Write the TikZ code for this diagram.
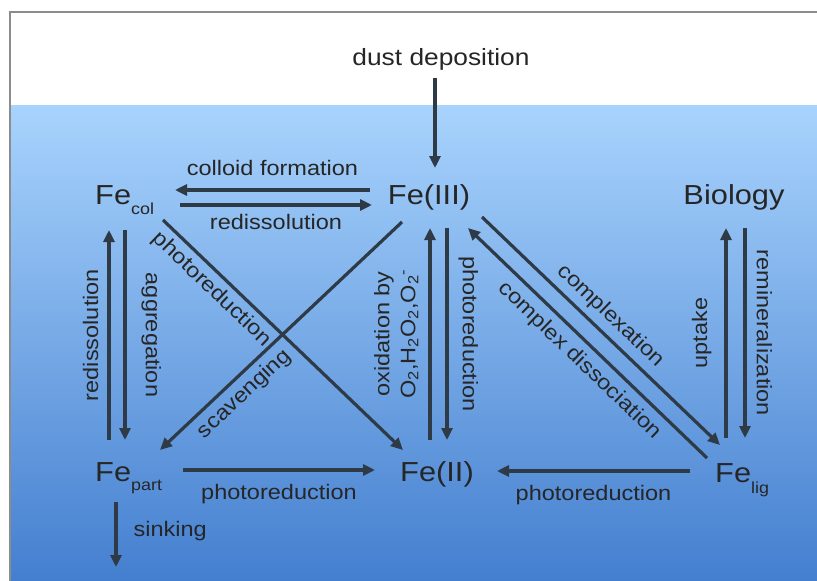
\documentclass[tikz,border=0pt]{standalone}
\usepackage{fontspec}
\setmainfont{Liberation Sans}[FakeStretch=1.12]
\usetikzlibrary{arrows.meta,calc}
\definecolor{arrc}{HTML}{2E3A46}
\definecolor{txtc}{HTML}{262626}
\definecolor{seatop}{HTML}{A8D3FD}
\definecolor{seabot}{HTML}{447FCF}
\definecolor{framec}{HTML}{8C8C8C}
\newcommand\labfont{\fontsize{21}{26}\selectfont}
\newcommand\spfont{\fontsize{27.5}{30}\selectfont}
\newcommand\FeSub[2]{Fe\raisebox{#2}{\fontsize{16}{16}\selectfont #1}}
\tikzset{
  arr/.style={draw=arrc, line width=3.2pt, -{Triangle[length=12pt,width=11pt]}},
  sp/.style={text=txtc, inner sep=0pt, font=\spfont},
  lab/.style={text=txtc, font=\labfont, inner sep=1pt},
}
\begin{document}
\begin{tikzpicture}[x=1pt,y=-1pt]
\useasboundingbox (0,0) rectangle (817,581);
\fill[white] (0,0) rectangle (817,581);
\shade[top color=seatop, bottom color=seabot] (10,105) rectangle (817,581);
\draw[framec, line width=1.5pt] (10,581) -- (10,12) -- (817,12);

% species
\node[sp, anchor=base, font=\fontsize{23.5}{26}\selectfont] (dust) at (441,65) {dust deposition};
\node[sp, anchor=base west] (col) at (95,204) {\FeSub{col}{-10pt}};
\node[sp, anchor=base] (fe3) at (429,204) {Fe(III)};
\node[sp, anchor=base] (bio) at (734,204) {Biology};
\node[sp, anchor=base west] (part) at (95,481) {\FeSub{part}{-9pt}};
\node[sp, anchor=base] (fe2) at (437,481) {Fe(II)};
\node[sp, anchor=base west] (lig) at (715,482) {\FeSub{lig}{-11pt}};
\coordinate (sinkend) at (116,567);

% dust
\draw[arr] ($(dust.base)+(-6,13)$) -- ($(fe3.base)+(6,-36)$);

% Fe(III) <-> Fe_col
\draw[arr] ($(fe3.base)+(-59,-14)$) -- ($(col.base west)+(80,-14)$)
  node[lab, midway, above=12pt] {colloid formation};
\draw[arr] ($(col.base west)+(85,1)$) -- ($(fe3.base)+(-57,1)$)
  node[lab, midway, below=7pt] {redissolution};

% Fe_col <-> Fe_part
\draw[arr] ($(col.base west)+(30,26)$) -- ($(part.base west)+(30,-41)$)
  node[lab, midway, sloped, above=14pt] {aggregation};
\draw[arr] ($(part.base west)+(14,-41)$) -- ($(col.base west)+(14,26)$)
  node[lab, midway, sloped, above=8pt] {redissolution};

% diagonals left
\draw[arr] ($(col.base west)+(68,16)$) -- ($(fe2.base)+(-34,-31)$)
  node[lab, pos=0.25, sloped, below=4pt] {photoreduction};
\draw[arr] ($(fe3.base)+(-27,18)$) -- ($(part.base west)+(65,-31)$)
  node[lab, pos=0.7, sloped, below=5pt] {scavenging};

% Fe(III) <-> Fe(II)
\draw[arr] ($(fe3.base)+(18,24)$) -- ($(fe2.base)+(10,-41)$)
  node[lab, midway, sloped, above=9pt] {photoreduction};
\draw[arr] ($(fe2.base)+(-7,-41)$) -- ($(fe3.base)+(1,24)$)
  node[lab, midway, sloped, above=9pt, align=center]
  {oxidation by\\O\textsubscript{2},H\textsubscript{2}O\textsubscript{2},O\textsubscript{2}\textsuperscript{-}};

% Fe(III) <-> Fe_lig
\draw[arr] ($(fe3.base)+(53,13)$) -- ($(lig.base west)+(5,-37)$)
  node[lab, pos=0.49, sloped, above=5pt] {complexation};
\draw[arr] ($(lig.base west)+(-8,-24)$) -- ($(fe3.base)+(39,24)$)
  node[lab, pos=0.48, sloped, below=6pt] {complex dissociation};

% Biology <-> Fe_lig
\draw[arr] ($(lig.base west)+(11,-44)$) -- ($(bio.base)+(-8,24)$)
  node[lab, midway, sloped, above=12pt] {uptake};
\draw[arr] ($(bio.base)+(11,24)$) -- ($(lig.base west)+(30,-44)$)
  node[lab, midway, sloped, above=9pt] {remineralization};

% bottom row
\draw[arr] ($(part.base west)+(88,-11)$) -- ($(fe2.base)+(-62,-11)$)
  node[lab, midway, below=12pt] {photoreduction};
\draw[arr] ($(lig.base west)+(-25,-11)$) -- ($(fe2.base)+(60,-10)$)
  node[lab, midway, below=12pt] {photoreduction};

% sinking
\draw[arr] ($(part.base west)+(21,21)$) -- (sinkend)
  node[lab, pos=0.45, right=15pt] {sinking};
\end{tikzpicture}
\end{document}
